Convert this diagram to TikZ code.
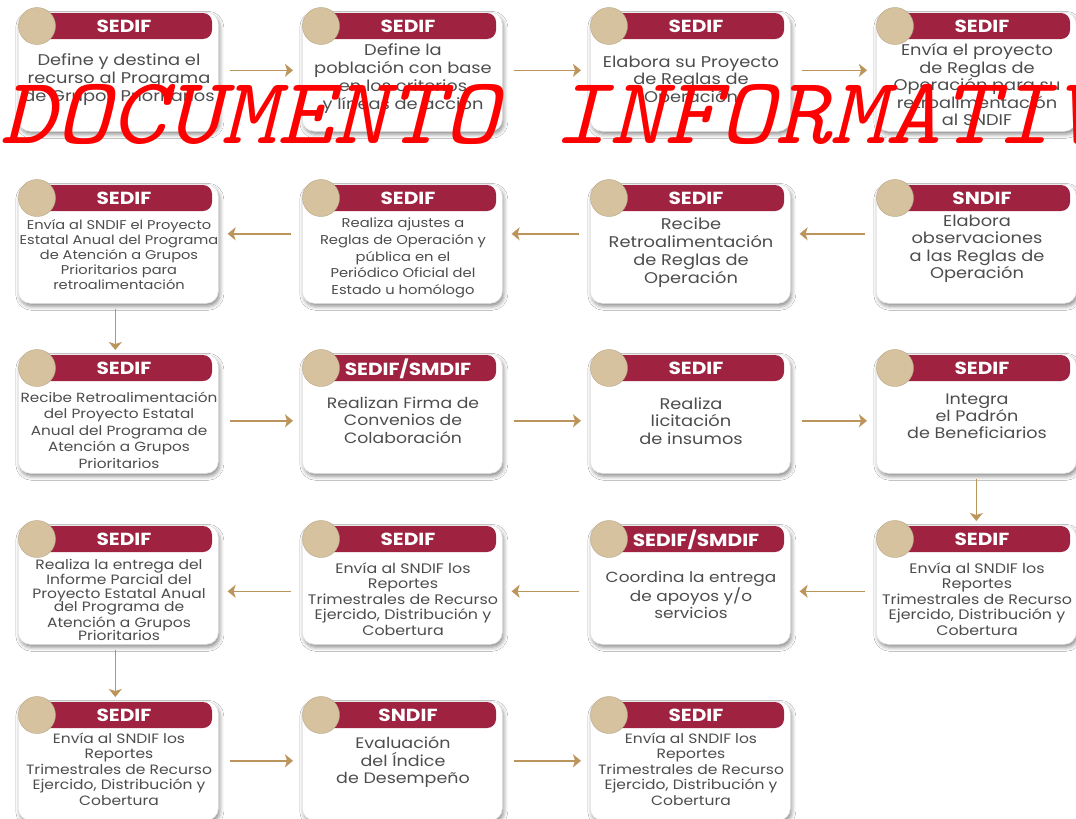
\documentclass[tikz,border=0pt]{standalone}
\usepackage{fontspec}
\setmainfont{Poppins}[FakeStretch=1.15]
\newfontfamily\wmfont{lmmono10-regular.otf}[FakeSlant=0.25,FakeStretch=1.11]
\usetikzlibrary{shadows.blur,arrows.meta}
\definecolor{gobmaroon}{HTML}{9F2241}
\definecolor{gobgold}{HTML}{D6C29E}
\definecolor{arrowtan}{HTML}{BC955C}
\definecolor{txtgray}{HTML}{4D4D4D}
\tikzset{
 cardbox/.style={rectangle, rounded corners=12pt, fill=white, draw=black!10, line width=0.6pt,
   minimum width=200pt, minimum height=119pt, inner sep=0pt, anchor=north west,
   blur shadow={shadow xshift=1.5pt, shadow yshift=-3pt, shadow blur radius=4pt, shadow opacity=45}},
 hdrbar/.style={fill=gobmaroon, rounded corners=9pt},
 hdrtxt/.style={text=white, font=\bfseries\fontsize{17.5}{17.5}\selectfont, inner sep=0pt},
 badge/.style={circle, fill=gobgold, minimum size=37pt, inner sep=0pt, draw=gobgold!85!black, line width=0.4pt},
 txt/.style 2 args={text=txtgray, align=center, inner sep=0pt, font=\fontsize{#1}{#2}\selectfont},
 flow/.style={draw=arrowtan, line width=1.6pt, -{Stealth[length=8pt,width=13pt,inset=2pt]}, shorten <=11pt, shorten >=9pt},
 flowdown/.style={flow, shorten <=5pt, shorten >=4pt},
 wmark/.style={anchor=base west, text=red, font=\wmfont\fontsize{95}{95}\selectfont, inner sep=0pt},
}
% name, left, top, header, text style, text offset, text
\newcommand\mkcard[7]{%
 \node[cardbox] (#1) at (#2,#3) {};
 \fill[hdrbar] ({#2+19},{#3+1}) rectangle ({#2+194},{#3+27});
 \node[badge] (#1b) at ({#2+19},{#3+14}) {};
 \node[hdrtxt] (#1h) at ({#2+106},{#3+14.5}) {#4};
 \node[#5] (#1t) at ({#2+101},{#3+#6}) {#7};
}
\begin{document}
\begin{tikzpicture}[x=1pt,y=-1pt]
\useasboundingbox (0,0) rectangle (1076,819);
\fill[white] (0,0) rectangle (1076,819);
% row 1
\mkcard{c11}{18}{12}{SEDIF}{txt={15.5}{18}}{68}{Define y destina el\\recurso al Programa\\de Grupos Prioritarios}
\mkcard{c12}{302}{12}{SEDIF}{txt={15.5}{18}}{67}{Define la\\población con base\\en los criterios\\y líneas de acción}
\mkcard{c13}{590}{12}{SEDIF}{txt={15.5}{17.5}}{69}{Elabora su Proyecto\\de Reglas de\\Operación}
\mkcard{c14}{876}{12}{SEDIF}{txt={15.5}{17.5}}{73}{Envía el proyecto\\de Reglas de\\Operación para su\\retroalimentación\\al SNDIF}
% row 2
\mkcard{c21}{18}{184}{SEDIF}{txt={12.7}{15}}{71}{Envía al SNDIF el Proyecto\\Estatal Anual del Programa\\de Atención a Grupos\\Prioritarios para\\retroalimentación}
\mkcard{c22}{302}{184}{SEDIF}{txt={12.8}{16.8}}{74}{Realiza ajustes a\\Reglas de Operación y\\pública en el\\Periódico Oficial del\\Estado u homólogo}
\mkcard{c23}{590}{184}{SEDIF}{txt={15.5}{18}}{69}{Recibe\\Retroalimentación\\de Reglas de\\Operación}
\mkcard{c24}{876}{184}{SNDIF}{txt={15.5}{17.5}}{65}{Elabora\\observaciones\\a las Reglas de\\Operación}
% row 3
\mkcard{c31}{18}{354}{SEDIF}{txt={13.3}{16.5}}{76}{Recibe Retroalimentación\\del Proyecto Estatal\\Anual del Programa de\\Atención a Grupos\\Prioritarios}
\mkcard{c32}{302}{354}{SEDIF/SMDIF}{txt={15}{17.5}}{66}{Realizan Firma de\\Convenios de\\Colaboración}
\mkcard{c33}{590}{354}{SEDIF}{txt={15.5}{17.5}}{67}{Realiza\\licitación\\de insumos}
\mkcard{c34}{876}{354}{SEDIF}{txt={15.3}{17}}{62}{Integra\\el Padrón\\de Beneficiarios}
% row 4
\mkcard{c41}{18}{525}{SEDIF}{txt={13.5}{13.8}}{75}{Realiza la entrega del\\Informe Parcial del\\Proyecto Estatal Anual\\del Programa de\\Atención a Grupos\\Prioritarios}
\mkcard{c42}{302}{525}{SEDIF}{txt={13.8}{15.5}}{74}{Envía al SNDIF los\\Reportes\\Trimestrales de Recurso\\Ejercido,  Distribución y\\Cobertura}
\mkcard{c43}{590}{525}{SEDIF/SMDIF}{txt={14.7}{17}}{70}{Coordina la entrega\\de apoyos y/o\\servicios}
\mkcard{c44}{876}{525}{SEDIF}{txt={13.8}{15.5}}{74}{Envía al SNDIF los\\Reportes\\Trimestrales de Recurso\\Ejercido,  Distribución y\\Cobertura}
% row 5
\mkcard{c51}{18}{701}{SEDIF}{txt={13.5}{15.5}}{68}{Envía al SNDIF los\\Reportes\\Trimestrales de Recurso\\Ejercido,  Distribución y\\Cobertura}
\mkcard{c52}{302}{701}{SNDIF}{txt={15.2}{17.5}}{61}{Evaluación\\del Índice\\de Desempeño}
\mkcard{c53}{590}{701}{SEDIF}{txt={13.5}{15.5}}{68}{Envía al SNDIF los\\Reportes\\Trimestrales de Recurso\\Ejercido,  Distribución y\\Cobertura}
% connectors
\draw[flow] ([yshift=1.5pt]c11.east) -- ([yshift=1.5pt]c12.west);
\draw[flow] ([yshift=1.5pt]c12.east) -- ([yshift=1.5pt]c13.west);
\draw[flow] ([yshift=1.5pt]c13.east) -- ([yshift=1.5pt]c14.west);
\draw[flow] ([yshift=10pt]c24.west) -- ([yshift=10pt]c23.east);
\draw[flow] ([yshift=10pt]c23.west) -- ([yshift=10pt]c22.east);
\draw[flow] ([yshift=10pt]c22.west) -- ([yshift=10pt]c21.east);
\draw[flowdown] ([xshift=-3pt]c21.south) -- ([xshift=-3pt]c31.north);
\draw[flow] ([yshift=-7pt]c31.east) -- ([yshift=-7pt]c32.west);
\draw[flow] ([yshift=-7pt]c32.east) -- ([yshift=-7pt]c33.west);
\draw[flow] ([yshift=-7pt]c33.east) -- ([yshift=-7pt]c34.west);
\draw[flowdown] (c34.south) -- (c44.north);
\draw[flow] ([yshift=-6.5pt]c44.west) -- ([yshift=-6.5pt]c43.east);
\draw[flow] ([yshift=-6.5pt]c43.west) -- ([yshift=-6.5pt]c42.east);
\draw[flow] ([yshift=-6.5pt]c42.west) -- ([yshift=-6.5pt]c41.east);
\draw[flowdown] ([xshift=-3pt]c41.south) -- ([xshift=-3pt]c51.north);
\draw[flow] (c51.east) -- (c52.west);
\draw[flow] (c52.east) -- (c53.west);
% watermark
\begin{scope}
\clip (0,0) rectangle (1076,819);
\node[wmark] (wm) at (0,143) {DOCUMENTO INFORMATIVO};
\end{scope}
\end{tikzpicture}
\end{document}
